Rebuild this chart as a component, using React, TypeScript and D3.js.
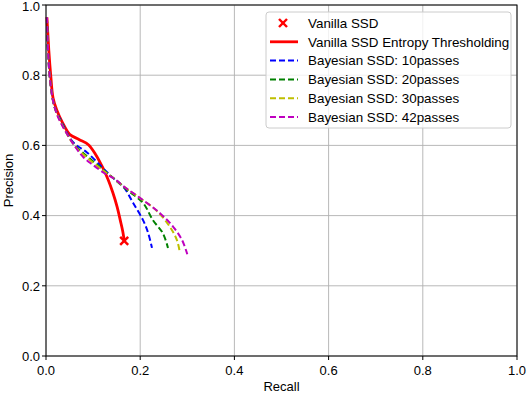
import * as d3 from 'd3';

const W = 528;
const H = 394;
const margin = { top: 5, right: 11, bottom: 38, left: 46 };

const ticks = [0, 0.2, 0.4, 0.6, 0.8, 1.0];

// Vanilla SSD single operating point
const vanillaRecall = [0.166];
const vanillaPrecision = [0.328];

const entropyRecall = [0.002, 0.006, 0.01, 0.015, 0.023, 0.035, 0.05, 0.07, 0.09, 0.105, 0.12, 0.132, 0.142, 0.151, 0.158, 0.163, 0.166];
const entropyPrecision = [0.965, 0.87, 0.8, 0.735, 0.7, 0.665, 0.632, 0.617, 0.602, 0.575, 0.538, 0.502, 0.465, 0.425, 0.385, 0.355, 0.33];

const bayes10Recall = [0.002, 0.005, 0.01, 0.018, 0.03, 0.057, 0.087, 0.119, 0.14, 0.164, 0.185, 0.206, 0.217, 0.225];
const bayes10Precision = [0.965, 0.85, 0.77, 0.71, 0.675, 0.61, 0.58, 0.538, 0.51, 0.483, 0.436, 0.387, 0.35, 0.308];

const bayes20Recall = [0.002, 0.005, 0.01, 0.018, 0.03, 0.06, 0.09, 0.12, 0.14, 0.17, 0.206, 0.227, 0.248, 0.259];
const bayes20Precision = [0.965, 0.85, 0.77, 0.71, 0.672, 0.602, 0.566, 0.532, 0.51, 0.475, 0.436, 0.387, 0.35, 0.308];

const bayes30Recall = [0.002, 0.005, 0.01, 0.018, 0.03, 0.06, 0.09, 0.12, 0.14, 0.175, 0.21, 0.235, 0.263, 0.278, 0.284];
const bayes30Precision = [0.965, 0.85, 0.77, 0.71, 0.67, 0.6, 0.562, 0.53, 0.51, 0.473, 0.44, 0.414, 0.368, 0.33, 0.296];

const bayes42Recall = [0.002, 0.005, 0.01, 0.018, 0.03, 0.062, 0.079, 0.1, 0.125, 0.145, 0.168, 0.2, 0.242, 0.27, 0.289, 0.3];
const bayes42Precision = [0.965, 0.85, 0.77, 0.71, 0.668, 0.596, 0.567, 0.544, 0.52, 0.505, 0.48, 0.45, 0.407, 0.368, 0.33, 0.29];

const curves = [
  { name: 'Vanilla SSD Entropy Thresholding', recall: entropyRecall, precision: entropyPrecision, color: '#ff0000', dash: null, width: 2.8 },
  { name: 'Bayesian SSD: 10passes', recall: bayes10Recall, precision: bayes10Precision, color: '#0000ff', dash: '6,3', width: 2 },
  { name: 'Bayesian SSD: 20passes', recall: bayes20Recall, precision: bayes20Precision, color: '#008000', dash: '6,3', width: 2 },
  { name: 'Bayesian SSD: 30passes', recall: bayes30Recall, precision: bayes30Precision, color: '#bfbf00', dash: '6,3', width: 2 },
  { name: 'Bayesian SSD: 42passes', recall: bayes42Recall, precision: bayes42Precision, color: '#bf00bf', dash: '6,3', width: 2 },
];

const font = '"Liberation Sans", Arial, sans-serif';
const fs = 13;
const legendFs = 13.4;

export default function App() {
  const x = d3.scaleLinear().domain([0, 1]).range([margin.left, W - margin.right]);
  const y = d3.scaleLinear().domain([0, 1]).range([H - margin.bottom, margin.top]);

  const line = d3
    .line<[number, number]>()
    .curve(d3.curveCatmullRom.alpha(0.5))
    .x((d) => x(d[0]))
    .y((d) => y(d[1]));

  const legendX = 266;
  const legendY = 12;
  const rowH = 18.8;

  const cross = (cx: number, cy: number, s: number, color: string, key: string) => (
    <g key={key} stroke={color} strokeWidth={2.4}>
      <line x1={cx - s} y1={cy - s} x2={cx + s} y2={cy + s} />
      <line x1={cx - s} y1={cy + s} x2={cx + s} y2={cy - s} />
    </g>
  );

  return (
    <svg width={W} height={H} style={{ position: 'absolute', left: 0, top: 0, background: '#fff' }} fontFamily={font}>
      {/* grid */}
      {ticks.map((t) => (
        <g key={'g' + t} stroke="#b0b0b0" strokeWidth={0.9}>
          <line x1={x(t)} x2={x(t)} y1={y(0)} y2={y(1)} />
          <line x1={x(0)} x2={x(1)} y1={y(t)} y2={y(t)} />
        </g>
      ))}

      {/* curves */}
      {curves.map((c) => (
        <path
          key={c.name}
          d={line(c.recall.map((r, i) => [r, c.precision[i]] as [number, number])) || ''}
          fill="none"
          stroke={c.color}
          strokeWidth={c.width}
          strokeDasharray={c.dash || undefined}
        />
      ))}
      {vanillaRecall.map((r, i) => cross(x(r), y(vanillaPrecision[i]), 4, '#ff0000', 'v' + i))}

      {/* spines */}
      <rect x={x(0)} y={y(1)} width={x(1) - x(0)} height={y(0) - y(1)} fill="none" stroke="#000" strokeWidth={1} />

      {/* ticks */}
      {ticks.map((t) => (
        <g key={'t' + t} fontSize={fs} fill="#000">
          <line x1={x(t)} x2={x(t)} y1={y(0)} y2={y(0) + 4} stroke="#000" />
          <text x={x(t)} y={y(0) + 19} textAnchor="middle">{t.toFixed(1)}</text>
          <line x1={x(0) - 4} x2={x(0)} y1={y(t)} y2={y(t)} stroke="#000" />
          <text x={x(0) - 6} y={Math.max(y(t) + 4.8, 11)} textAnchor="end">{t.toFixed(1)}</text>
        </g>
      ))}

      {/* axis labels */}
      <text x={(x(0) + x(1)) / 2} y={391} textAnchor="middle" fontSize={fs}>Recall</text>
      <text transform={`translate(13,${(y(0) + y(1)) / 2}) rotate(-90)`} textAnchor="middle" fontSize={fs}>Precision</text>

      {/* legend */}
      <rect x={legendX} y={legendY} width={245} height={116} rx={3} fill="#fff" fillOpacity={0.8} stroke="#cccccc" strokeWidth={1} />
      {cross(legendX + 17, legendY + 11, 4, '#ff0000', 'lv')}
      <text x={legendX + 42} y={legendY + 15.8} fontSize={legendFs}>Vanilla SSD</text>
      {curves.map((c, i) => {
        const cy = legendY + 11 + rowH * (i + 1);
        return (
          <g key={'l' + c.name}>
            <line x1={legendX + 4} x2={legendX + 32} y1={cy} y2={cy} stroke={c.color} strokeWidth={c.width} strokeDasharray={c.dash || undefined} />
            <text x={legendX + 42} y={cy + 4.8} fontSize={legendFs}>{c.name}</text>
          </g>
        );
      })}
    </svg>
  );
}
